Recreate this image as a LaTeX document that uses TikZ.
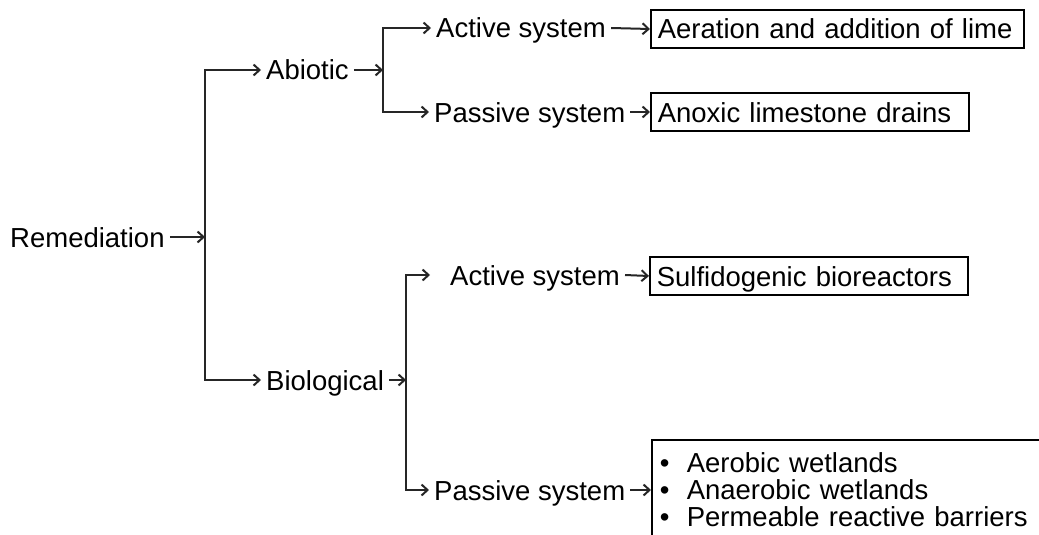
\documentclass[tikz,border=0pt]{standalone}
\usepackage{fontspec}
\setmainfont{Liberation Sans}
\usetikzlibrary{arrows.meta}

\begin{document}
\begin{tikzpicture}[x=1pt, y=-1pt, >={Straight Barb[length=6pt,width=11pt]},
  lbl/.style={anchor=west, inner xsep=5pt, inner ysep=0pt, text height=20pt, text depth=0pt,
    font=\fontsize{27.5}{27}\selectfont},
  box/.style={lbl, draw, line width=1.6pt, inner xsep=7pt, minimum height=38pt},
  listbox/.style={draw, line width=1.6pt, anchor=north west, inner xsep=8pt, inner ysep=13pt,
    align=left, text width=420pt, font=\fontsize{27.5}{27}\selectfont},
  link/.style={->, line width=2pt, black!85}]
  \clip (0,0) rectangle (1039,535);
  % root and first split
  \node[lbl] (rem) at (5,237) {Remediation};
  \coordinate (trunk) at (205,237);
  \node[lbl] (abio) at (261,70) {Abiotic};
  \node[lbl] (bio) at (261,380) {Biological};
  \coordinate (abr) at (383,70);
  \coordinate (bbr) at (406,380);
  % abiotic branch
  \node[lbl] (act1) at (431,28) {Active system};
  \node[lbl] (pas1) at (429,112) {Passive system};
  \node[box, text width=359pt] (aer) at (650,29) {Aeration and addition of lime};
  \node[box, text width=304pt] (ald) at (650,112) {Anoxic limestone drains};
  % biological branch
  \node[lbl] (act2) at (445,275) {Active system};
  \node[lbl] (pas2) at (429,490) {Passive system};
  \node[box, text width=304pt] (sulf) at (649,276) {Sulfidogenic bioreactors};
  \node[listbox] (lst) at (651,439)
    {\makebox[27pt][l]{\textbullet}Aerobic wetlands\\
     \makebox[27pt][l]{\textbullet}Anaerobic wetlands\\
     \makebox[27pt][l]{\textbullet}Permeable reactive barriers};
  % connectors
  \draw[link] (rem.east) -- (trunk);
  \draw[link] (trunk) |- (abio.west);
  \draw[link] (trunk) |- (bio.west);
  \draw[link] (abio.east) -- (abr);
  \draw[link] (abr) |- (act1.west);
  \draw[link] (abr) |- (pas1.west);
  \draw[link] (act1.east) -- (aer.west);
  \draw[link] (pas1.east) -- (ald.west);
  \draw[link] (bio.east) -- (bbr);
  \draw[link, shorten >=15pt] (bbr) |- (act2.west);
  \draw[link] (bbr) |- (pas2.west);
  \draw[link] (act2.east) -- (sulf.west);
  \draw[link] (pas2.east) -- (pas2.east -| lst.west);
\end{tikzpicture}
\end{document}
